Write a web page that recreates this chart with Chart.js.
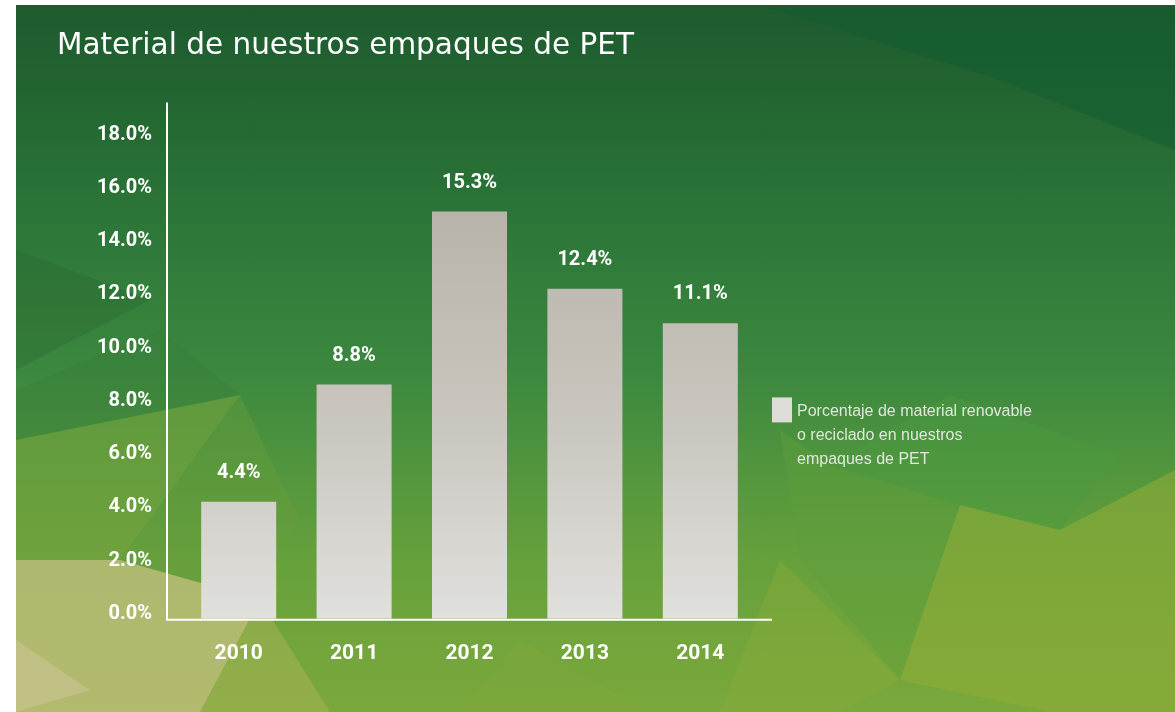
<!DOCTYPE html>
<html>
<head>
<meta charset="utf-8">
<script src="https://cdn.jsdelivr.net/npm/chart.js@4/dist/chart.umd.min.js"></script>
<style>
  html, body { margin: 0; padding: 0; background: #ffffff; }
  #wrap { position: relative; width: 1175px; height: 712px; overflow: hidden; }
  #bg {
    position: absolute; left: 16px; top: 5px; width: 1159px; height: 707px;
    background:
      linear-gradient(to bottom, #1e5b2f 0%, #246832 16%, #2f7a3a 35%, #3c883f 52%, #4f943e 64%, #65a03c 78%, #72a53b 90%, #7aa83b 100%);
  }
  #deco { position: absolute; left: 16px; top: 5px; }
  #chartBox { position: absolute; left: 0; top: 0; width: 1175px; height: 712px; }
</style>
</head>
<body>
<div id="wrap">
  <div id="bg"></div>
  <svg id="deco" width="1159" height="707" viewBox="16 5 1159 707">
    <polygon points="760,5 1175,5 1175,150 1000,80" fill="#0f5c30" opacity="0.45"/>
    <polygon points="16,250 150,300 16,370" fill="#27602f" opacity="0.3"/>
    <polygon points="16,390 160,330 240,395 16,440" fill="#3a7b3a" opacity="0.35"/>
    <polygon points="16,440 240,395 120,560 16,560" fill="#74a43e" opacity="0.6"/>
    <polygon points="120,560 240,395 300,520 260,600" fill="#6a9e3b" opacity="0.4"/>
    <polygon points="16,560 120,560 260,600 200,712 16,712" fill="#c0be7c" opacity="0.8"/>
    <polygon points="16,640 90,690 16,712" fill="#cfc79a" opacity="0.5"/>
    <polygon points="260,600 330,712 200,712" fill="#a9b458" opacity="0.5"/>
    <polygon points="780,430 830,465 960,505 900,680 800,560" fill="#5f9d3c" opacity="0.45"/>
    <polygon points="830,465 950,395 1120,455 1060,530 960,505" fill="#4b9a42" opacity="0.4"/>
    <polygon points="960,505 1060,530 1175,470 1175,712 1050,712 900,680" fill="#8dab37" opacity="0.6"/>
    <polygon points="780,560 900,680 840,712 720,712" fill="#86aa3a" opacity="0.5"/>
    <polygon points="520,640 650,712 460,712" fill="#80a83c" opacity="0.4"/>
  </svg>
  <div id="chartBox"><canvas id="c"></canvas></div>
</div>
<script>
const chartTitle = 'Material de nuestros empaques de PET';
const categories = ['2010', '2011', '2012', '2013', '2014'];
const values = [4.4, 8.8, 15.3, 12.4, 11.1];
const yTickValues = [0, 2, 4, 6, 8, 10, 12, 14, 16, 18];
const yMax = 19.4;
const seriesLabelLines = ['Porcentaje de material renovable', 'o reciclado en nuestros', 'empaques de PET'];

const fmtPct = v => v.toFixed(1) + '%';

function barFill(ctx) {
  const chart = ctx.chart;
  const area = chart.chartArea;
  if (!area) return '#d0cec9';
  const g = chart.ctx.createLinearGradient(0, area.top + 100, 0, area.bottom);
  g.addColorStop(0, '#b8b3a9');
  g.addColorStop(0.55, '#cac7c0');
  g.addColorStop(1, '#e0e0dc');
  return g;
}

const axisLines = {
  id: 'axisLines',
  afterDatasetsDraw(chart) {
    const {ctx, chartArea} = chart;
    const y0 = chart.scales.y.getPixelForValue(0) + 1;
    const ext = 14;
    ctx.save();
    ctx.strokeStyle = '#ffffff';
    ctx.lineWidth = 2;
    ctx.beginPath();
    ctx.moveTo(chartArea.left - ext, chartArea.top);
    ctx.lineTo(chartArea.left - ext, y0);
    ctx.lineTo(chartArea.right + ext, y0);
    ctx.stroke();
    ctx.restore();
  }
};

const valueLabels = {
  id: 'valueLabels',
  afterDatasetsDraw(chart) {
    const {ctx} = chart;
    const meta = chart.getDatasetMeta(0);
    ctx.save();
    ctx.fillStyle = '#ffffff';
    ctx.font = 'bold 20px Roboto, "DejaVu Sans", sans-serif';
    ctx.textAlign = 'center';
    ctx.textBaseline = 'middle';
    meta.data.forEach((bar, i) => {
      ctx.fillText(fmtPct(chart.data.datasets[0].data[i]), bar.x, bar.y - 29);
    });
    ctx.restore();
  }
};

const sideLegend = {
  id: 'sideLegend',
  afterDraw(chart) {
    const {ctx, chartArea} = chart;
    const bx = chartArea.right + 14;
    const by = chartArea.top + 295;
    ctx.save();
    ctx.fillStyle = '#dcdcd8';
    ctx.fillRect(bx, by, 20, 25);
    ctx.fillStyle = 'rgba(232,236,228,0.95)';
    ctx.font = '16px "Liberation Sans", Arial, sans-serif';
    ctx.textAlign = 'left';
    ctx.textBaseline = 'middle';
    seriesLabelLines.forEach((line, i) => {
      ctx.fillText(line, bx + 25, by + 14 + i * 24);
    });
    ctx.restore();
  }
};

new Chart(document.getElementById('c'), {
  type: 'bar',
  data: {
    labels: categories,
    datasets: [{
      label: seriesLabelLines.join(' '),
      data: values,
      backgroundColor: barFill,
      borderWidth: 0,
      barPercentage: 0.65,
      categoryPercentage: 1.0
    }]
  },
  options: {
    responsive: true,
    maintainAspectRatio: false,
    animation: false,
    layout: { padding: { left: 57, right: 417, top: 0, bottom: 24 } },
    plugins: {
      legend: { display: false },
      tooltip: { enabled: false },
      title: {
        display: true,
        text: chartTitle,
        align: 'start',
        color: '#ffffff',
        font: { family: '"DejaVu Sans", sans-serif', size: 29.5, weight: 'normal', lineHeight: 1.2 },
        padding: { top: 29, bottom: 38 }
      }
    },
    scales: {
      x: {
        offset: true,
        grid: { display: false, drawTicks: false },
        border: { display: false },
        ticks: {
          color: '#ffffff',
          padding: 22,
          font: { family: 'Roboto, sans-serif', size: 21, weight: 'bold', lineHeight: 1.2 }
        }
      },
      y: {
        min: 0,
        max: yMax,
        grid: { display: false, drawTicks: false },
        border: { display: false },
        afterFit(scale) { scale.width = 124; },
        afterBuildTicks(scale) { scale.ticks = yTickValues.map(v => ({ value: v })); },
        ticks: {
          color: '#ffffff',
          padding: 29,
          labelOffset: -5,
          font: { family: 'Roboto, sans-serif', size: 20, weight: 'bold' },
          callback: v => fmtPct(v)
        }
      }
    }
  },
  plugins: [axisLines, valueLabels, sideLegend]
});
</script>
</body>
</html>
